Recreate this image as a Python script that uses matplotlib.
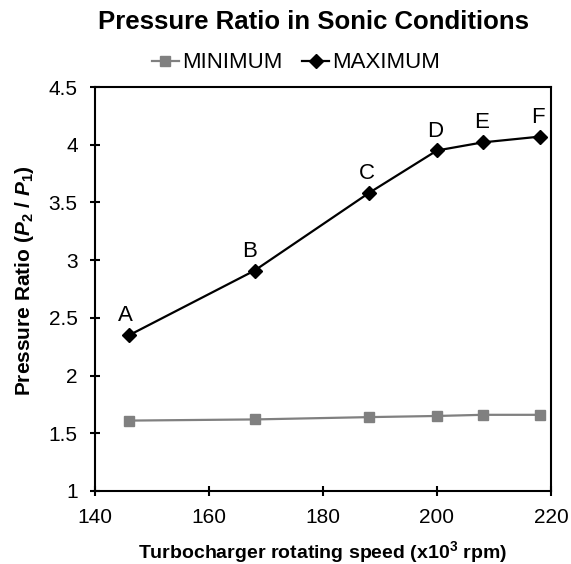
import numpy as np
import matplotlib.pyplot as plt

plt.rcParams['font.family'] = ['Liberation Sans', 'DejaVu Sans']
plt.rcParams['mathtext.fontset'] = 'custom'
plt.rcParams['mathtext.rm'] = 'Liberation Sans:bold'
plt.rcParams['mathtext.it'] = 'Liberation Sans:italic:bold'
plt.rcParams['mathtext.bf'] = 'Liberation Sans:bold'

# data
speed = [146, 168, 188, 200, 208, 218]
p_min = [1.61, 1.62, 1.64, 1.65, 1.66, 1.66]
p_max = [2.35, 2.91, 3.58, 3.95, 4.02, 4.07]
labels = ['A', 'B', 'C', 'D', 'E', 'F']

fig = plt.figure(figsize=(5.71, 5.64), dpi=100)
ax = fig.add_axes([95/571, 1 - 491/564, (551-95)/571, (491-87)/564])

ax.plot(speed, p_min, color='#808080', marker='s', markersize=7.5, lw=1.6, label='MINIMUM')
ax.plot(speed, p_max, color='black', marker='D', markersize=7, lw=1.6, label='MAXIMUM')

for x, y, t in zip(speed, p_max, labels):
    dx = {'A': -2.5, 'B': -3.5}.get(t, -1)
    ax.annotate(t, (x, y), xytext=(dx, 14), textcoords='offset points',
                fontsize=16, ha='center', va='center')

ax.set_xlim(140, 220)
ax.set_ylim(1, 4.5)
ax.set_xticks([140, 160, 180, 200, 220])
ax.set_yticks([1, 1.5, 2, 2.5, 3, 3.5, 4, 4.5])
ax.set_yticklabels(['1', '1.5', '2', '2.5', '3', '3.5', '4', '4.5'])
ax.tick_params(direction='inout', length=7, width=1.5, labelsize=15)
ax.tick_params(axis='x', pad=9)
ax.tick_params(axis='y', pad=9)
for s in ax.spines.values():
    s.set_linewidth(1.5)

ax.set_xlabel('Turbocharger rotating speed (x10$^3$ rpm)', fontsize=14, fontweight='bold')
ax.xaxis.set_label_coords(0.5, (491 - 552) / 404, transform=ax.transAxes)
ax.set_ylabel('Pressure Ratio ($P_2$ / $P_1$)', fontsize=15, fontweight='bold')
ax.yaxis.set_label_coords((25 - 95) / 456, (491 - 281) / 404, transform=ax.transAxes)
ax.yaxis.label.set_va('center')
ax.xaxis.label.set_va('center')

fig.text(313/571, 1 - 22/564, 'Pressure Ratio in Sonic Conditions', ha='center', va='center',
         fontsize=18.5, fontweight='bold')
fig.legend(loc='center', bbox_to_anchor=(296/571, 1 - 63/564), ncol=2, frameon=False,
           fontsize=16, handlelength=1.2, handletextpad=0.15, columnspacing=0.9)

plt.savefig('out.png', dpi=100)
